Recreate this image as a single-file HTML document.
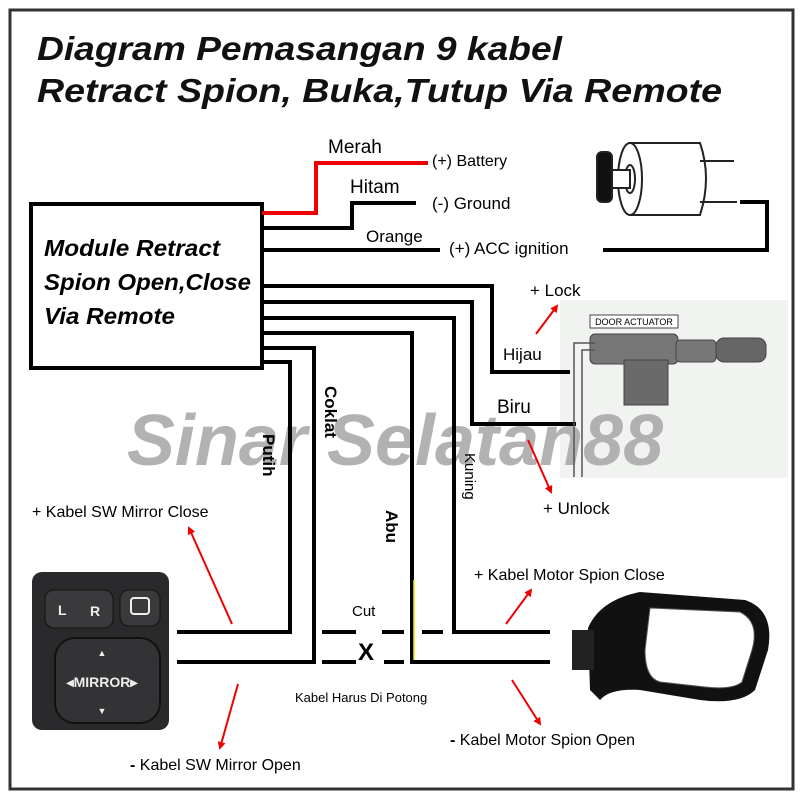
<!DOCTYPE html>
<html><head><meta charset="utf-8"><style>
html,body{margin:0;padding:0;background:#fff}
svg{display:block}
text{font-family:"Liberation Sans",sans-serif}
</style></head><body>
<svg width="800" height="800" viewBox="0 0 800 800" xmlns="http://www.w3.org/2000/svg">
<rect x="0" y="0" width="800" height="800" fill="#fff"/>
<rect x="10" y="10" width="783" height="779" fill="none" stroke="#333" stroke-width="3"/>
<!-- title -->
<text x="37" y="60" font-size="33" font-weight="bold" font-style="italic" fill="#111" textLength="525" lengthAdjust="spacingAndGlyphs">Diagram Pemasangan 9 kabel</text>
<text x="37" y="102" font-size="33" font-weight="bold" font-style="italic" fill="#111" textLength="685" lengthAdjust="spacingAndGlyphs">Retract Spion,  Buka,Tutup Via Remote</text>
<!-- door actuator bg -->
<rect x="560" y="300" width="228" height="178" fill="#f1f3f1"/>
<!-- watermark -->
<text x="395" y="465" font-size="72" font-weight="bold" font-style="italic" fill="#aaa" text-anchor="middle" opacity="0.9">Sinar Selatan88</text>
<!-- module box -->
<rect x="31" y="204" width="231" height="164" fill="none" stroke="#000" stroke-width="4"/>
<text x="44" y="256" font-size="23" font-weight="bold" font-style="italic" textLength="176" lengthAdjust="spacingAndGlyphs">Module Retract</text>
<text x="44" y="290" font-size="23" font-weight="bold" font-style="italic" textLength="207" lengthAdjust="spacingAndGlyphs">Spion Open,Close</text>
<text x="44" y="324" font-size="23" font-weight="bold" font-style="italic" textLength="131" lengthAdjust="spacingAndGlyphs">Via Remote</text>
<!-- wires -->
<g fill="none" stroke-width="4" stroke-linejoin="miter">
<polyline points="262,213 316,213 316,163 428,163" stroke="#e00"/>
<polyline points="262,228 352,228 352,203 416,203" stroke="#000"/>
<polyline points="262,250 440,250" stroke="#000"/>
<polyline points="603,250 767,250 767,202 740,202" stroke="#000"/>
<polyline points="262,286 492,286 492,372 570,372" stroke="#000"/>
<polyline points="262,302 472,302 472,424 576,424" stroke="#000"/>
<polyline points="262,318 454,318 454,632 550,632" stroke="#000"/>
<polyline points="262,333 412,333 412,662 550,662" stroke="#000"/>
<polyline points="262,348 314,348 314,662 177,662" stroke="#000"/>
<polyline points="262,362 290,362 290,632 177,632" stroke="#000"/>
<line x1="322" y1="632" x2="356" y2="632" stroke="#000"/>
<line x1="322" y1="662" x2="356" y2="662" stroke="#000"/>
<line x1="382" y1="632" x2="404" y2="632" stroke="#000"/>
<line x1="384" y1="662" x2="404" y2="662" stroke="#000"/>
<line x1="422" y1="632" x2="443" y2="632" stroke="#000"/>
</g>
<line x1="414" y1="580" x2="414" y2="660" stroke="#ee0" stroke-width="1.5"/>
<!-- key cylinder -->
<g fill="#fff" stroke="#222" stroke-width="2">
<rect x="597" y="152" width="15" height="50" rx="5" fill="#111"/>
<path d="M630,143 L700,143 Q712,178 700,215 L630,215 Q615,178 630,143Z"/>
<ellipse cx="630" cy="179" rx="12" ry="36"/>
<ellipse cx="630" cy="179" rx="5" ry="14"/>
<rect x="612" y="170" width="18" height="18"/>
<line x1="700" y1="161" x2="734" y2="161"/>
<line x1="700" y1="202" x2="737" y2="202"/>
</g>
<!-- door actuator -->
<rect x="590" y="315" width="88" height="13" fill="#fff" stroke="#444" stroke-width="1"/>
<text x="634" y="325" font-size="9" text-anchor="middle">DOOR ACTUATOR</text>
<g fill="#777" stroke="#444">
<rect x="590" y="334" width="88" height="30" rx="5"/>
<rect x="676" y="340" width="40" height="22" rx="4"/>
<rect x="716" y="338" width="50" height="24" rx="8" fill="#666"/>
<rect x="624" y="360" width="44" height="45" fill="#6a6a6a"/>
</g>
<g stroke="#555" fill="none" stroke-width="1.5">
<polyline points="595,343 574,343 574,477"/>
<polyline points="595,350 582,350 582,477"/>
</g>
<!-- labels -->
<g font-size="17">
<text x="328" y="153" font-size="19">Merah</text>
<text x="350" y="193" font-size="19">Hitam</text>
<text x="366" y="242">Orange</text>
<text x="432" y="166" font-size="16">(+) Battery</text>
<text x="432" y="209">(-) Ground</text>
<text x="449" y="254">(+) ACC ignition</text>
<text x="530" y="296">+  Lock</text>
<text x="503" y="360">Hijau</text>
<text x="497" y="413" font-size="19">Biru</text>
<text x="543" y="514">+  Unlock</text>
<text x="32" y="517" font-size="16">+  Kabel SW Mirror Close</text>
<text x="474" y="580" font-size="16">+  Kabel Motor Spion Close</text>
<text x="352" y="616" font-size="15">Cut</text>
<text x="358" y="660" font-size="24" font-weight="bold">X</text>
<text x="295" y="702" font-size="13">Kabel Harus Di Potong</text>
<text x="450" y="745" font-size="16"><tspan font-weight="bold">-</tspan>  Kabel Motor Spion Open</text>
<text x="130" y="770" font-size="16"><tspan font-weight="bold">-</tspan>  Kabel SW Mirror Open</text>
</g>
<g font-size="17" font-weight="bold">
<text transform="translate(263,434) rotate(90)">Putih</text>
<text transform="translate(325,386) rotate(90)">Coklat</text>
<text transform="translate(386,510) rotate(90)">Abu</text>
</g>
<text transform="translate(465,453) rotate(90)" font-size="15">Kuning</text>
<!-- red arrows -->
<defs><marker id="ah" markerWidth="8" markerHeight="8" refX="6" refY="4" orient="auto" markerUnits="userSpaceOnUse"><path d="M0,0 L8,4 L0,8Z" fill="#e00"/></marker></defs>
<g stroke="#e00" stroke-width="2" marker-end="url(#ah)">
<line x1="536" y1="334" x2="557" y2="306"/>
<line x1="528" y1="440" x2="551" y2="492"/>
<line x1="232" y1="624" x2="189" y2="528"/>
<line x1="238" y1="684" x2="220" y2="748"/>
<line x1="506" y1="624" x2="531" y2="590"/>
<line x1="512" y1="680" x2="540" y2="724"/>
</g>
<!-- mirror switch -->
<rect x="32" y="572" width="137" height="158" rx="10" fill="#2a2a2c"/>
<rect x="45" y="590" width="68" height="38" rx="9" fill="#3a3a3c" stroke="#111"/>
<rect x="120" y="590" width="40" height="36" rx="9" fill="#3a3a3c" stroke="#111"/>
<text x="58" y="615" font-size="14" fill="#eee" font-weight="bold">L</text>
<text x="90" y="616" font-size="14" fill="#eee" font-weight="bold">R</text>
<rect x="131" y="598" width="18" height="16" rx="3" fill="none" stroke="#eee" stroke-width="2"/>
<rect x="55" y="638" width="105" height="85" rx="20" fill="#333335" stroke="#111" stroke-width="2"/>
<text x="102" y="656" font-size="9" fill="#eee" text-anchor="middle">▲</text>
<text x="102" y="687" font-size="14" fill="#eee" text-anchor="middle" font-weight="bold">◂MIRROR▸</text>
<text x="102" y="714" font-size="9" fill="#eee" text-anchor="middle">▼</text>
<!-- side mirror -->
<path d="M588,628 Q600,600 640,592 L745,600 Q775,610 768,650 L755,690 Q740,705 700,700 L640,690 Q610,688 600,700 L590,690Z" fill="#111"/>
<path d="M650,608 L740,612 Q760,622 752,650 L742,682 Q733,690 705,687 L660,682 Q645,678 645,650 Z" fill="#fff" stroke="#555"/>
<rect x="572" y="630" width="22" height="40" fill="#222"/>
</svg>
</body></html>
